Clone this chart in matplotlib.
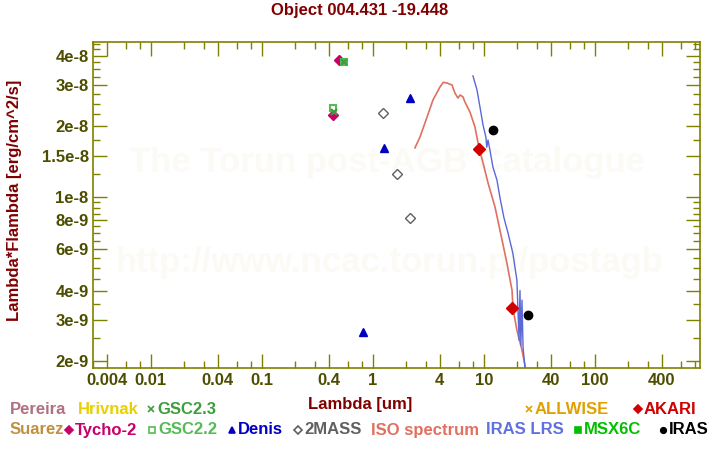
import numpy as np
from matplotlib import pyplot as plt
from matplotlib.lines import Line2D
from matplotlib.ticker import FixedLocator, NullFormatter

plt.rcParams['font.family'] = ['Liberation Sans', 'DejaVu Sans']
plt.rcParams['font.weight'] = 'bold'

# photometry (wavelength in um, lambda*F_lambda in erg/cm^2/s)
tycho_wl = [0.49, 0.436]
tycho_f = [3.84e-8, 2.24e-8]
gsc22_wl = [0.548, 0.436]
gsc22_f = [3.76e-8, 2.40e-8]
gsc23_wl = [0.548, 0.445]
gsc23_f = [3.76e-8, 2.30e-8]
denis_wl = [0.81, 1.26, 2.15]
denis_f = [2.66e-9, 1.62e-8, 2.64e-8]
mass2_wl = [1.23, 1.65, 2.15]
mass2_f = [2.28e-8, 1.25e-8, 8.14e-9]
akari_wl = [9.0, 17.9]
akari_f = [1.60e-8, 3.36e-9]
iras_wl = [12.05, 24.9]
iras_f = [1.93e-8, 3.14e-9]

iso_wl = [2.39, 2.65, 3.07, 3.47, 4.01, 4.3, 4.64, 5.15, 5.48, 5.83, 6.1, 6.47, 6.74, 7.48,
          8.29, 9.02, 9.80, 10.87, 12.57, 13.93, 16.1, 17.9, 18.25, 19.8, 22.0, 23.9]
iso_f = [1.62e-8, 1.80e-8, 2.19e-8, 2.59e-8, 2.94e-8, 3.08e-8, 3.06e-8, 3.00e-8, 2.77e-8,
         2.64e-8, 2.72e-8, 2.67e-8, 2.54e-8, 2.30e-8, 1.99e-8, 1.62e-8, 1.40e-8, 1.15e-8,
         9.07e-9, 7.23e-9, 5.23e-9, 4.01e-9, 3.36e-9, 2.71e-9, 2.23e-9, 1.83e-9]

lrs_wl = [7.96, 8.65, 9.2, 9.8, 10.4, 10.6, 10.87, 11.3, 12.05, 13.1, 13.9, 15.1,
          16.5, 18.2, 19.8, 20.7, 21.1, 21.5, 22.0, 22.5, 23.4]
lrs_f = [3.28e-8, 2.86e-8, 2.42e-8, 2.03e-8, 1.80e-8, 1.63e-8, 1.75e-8, 1.59e-8,
         1.34e-8, 1.18e-8, 1.0e-8, 8.2e-9, 7.0e-9, 5.77e-9, 4.43e-9, 2.46e-9,
         4.0e-9, 2.34e-9, 3.64e-9, 2.29e-9, 1.88e-9]

x_labels = [0.004, 0.01, 0.04, 0.1, 0.4, 1, 4, 10, 40, 100, 400]
y_labels = [2e-9, 3e-9, 4e-9, 6e-9, 8e-9, 1e-8, 1.5e-8, 2e-8, 3e-8, 4e-8]
y_label_text = ['2e-9', '3e-9', '4e-9', '6e-9', '8e-9', '1e-8', '1.5e-8', '2e-8', '3e-8', '4e-8']

olive = '#808000'
ticktxt = '#4d4d00'
darkred = '#800000'

fig = plt.figure(figsize=(7.2, 4.5), dpi=100)
ax = fig.add_axes([0.129, 0.182, 0.843, 0.725])

# watermark
ax.text(0.485, 0.63, 'The Torun post-AGB Catalogue', transform=ax.transAxes,
        ha='center', va='center', fontsize=25, color='#fcfaf5', zorder=0)
ax.text(0.488, 0.325, 'http://www.ncac.torun.pl/postagb', transform=ax.transAxes,
        ha='center', va='center', fontsize=25, color='#fcfaf5', zorder=0)

ax.plot(iso_wl, iso_f, color='#e07060', lw=1.2)
ax.plot(lrs_wl, lrs_f, color='#5a68d8', lw=1.0)

ax.plot(tycho_wl, tycho_f, 'D', color='#c8006a', ms=5, ls='none')
ax.plot(gsc22_wl, gsc22_f, 's', mfc='none', mec='#55bb55', mew=1.5, ms=5, ls='none')
ax.plot(gsc23_wl, gsc23_f, 'x', color='#3c9e3c', mew=1.5, ms=5, ls='none')
ax.plot(denis_wl, denis_f, '^', color='#0000c0', ms=6, ls='none')
ax.plot(mass2_wl, mass2_f, 'D', mfc='none', mec='#606060', mew=1.0, ms=5, ls='none')
ax.plot(akari_wl, akari_f, 'D', color='#d00000', ms=6, ls='none')
ax.plot(iras_wl, iras_f, 'o', color='black', ms=6, ls='none')

ax.set_xscale('log')
ax.set_yscale('log')
ax.set_xlim(0.003, 880)
ax.set_ylim(1.87e-9, 4.58e-8)

majors = []
minors = []
for d in range(-3, 3):
    for m in [1, 4]:
        majors.append(m * 10.0 ** d)
    for m in [2, 3, 6, 8]:
        minors.append(m * 10.0 ** d)
ax.xaxis.set_major_locator(FixedLocator(majors))
ax.xaxis.set_minor_locator(FixedLocator(minors))
ax.xaxis.set_major_formatter(plt.FuncFormatter(
    lambda v, p: ('%g' % v) if any(abs(v - l) / l < 1e-6 for l in x_labels) else ''))
ax.xaxis.set_minor_formatter(NullFormatter())

ax.yaxis.set_major_locator(FixedLocator(y_labels))
ax.yaxis.set_minor_locator(FixedLocator(
    list(np.arange(2.0, 10.0, 0.5) * 1e-9) + list(np.arange(1.0, 4.6, 0.25) * 1e-8)))
ax.set_yticklabels(y_label_text)
ax.yaxis.set_minor_formatter(NullFormatter())

ax.tick_params(which='both', direction='in', top=True, right=True, color=olive,
               labelcolor=ticktxt, labelsize=12)
ax.tick_params(which='major', length=10, width=1)
ax.tick_params(which='minor', length=5, width=1)
ax.tick_params(axis='y', pad=3)
for lab in ax.get_xticklabels() + ax.get_yticklabels():
    lab.set_fontweight('bold')
for s in ax.spines.values():
    s.set_color(olive)
    s.set_linewidth(1.2)

W, H = 720.0, 450.0
fig.text(0.5, 1 - 11 / H, 'Object 004.431 -19.448', color=darkred, fontsize=12,
         fontweight='bold', ha='center', va='center')
fig.text(15 / W, 1 - 200 / H, 'Lambda*Flambda [erg/cm^2/s]', color=darkred, fontsize=12,
         fontweight='bold', ha='center', va='center', rotation=90)
fig.text(0.5, 1 - 405 / H, 'Lambda [um]', color=darkred, fontsize=12,
         fontweight='bold', ha='center', va='center')

# legend rows below the plot (pixel x positions)
legend = [
    (10, 409, None, 'Pereira', '#b07080'),
    (78, 409, None, 'Hrivnak', '#e8d000'),
    (147, 409, 'x', 'GSC2.3', '#3c9e3c'),
    (525, 409, 'x', 'ALLWISE', '#e0a000'),
    (634, 409, 'D', 'AKARI', '#d00000'),
    (10, 430, None, 'Suarez', '#c09040'),
    (65, 430, 'D', 'Tycho-2', '#c8006a'),
    (148, 430, 's', 'GSC2.2', '#55bb55'),
    (228, 430, '^', 'Denis', '#0000c0'),
    (294, 430, 'D', '2MASS', '#606060'),
    (371, 430, None, 'ISO spectrum', '#e07060'),
    (486, 430, None, 'IRAS LRS', '#6070e0'),
    (574, 430, 's', 'MSX6C', '#00c000'),
    (659, 430, 'o', 'IRAS', 'black'),
]
open_marks = {'GSC2.2', '2MASS'}
for x, y, mk, label, col in legend:
    tx = x
    if mk is not None:
        face = 'none' if label in open_marks else col
        fig.add_artist(Line2D([(x + 4) / W], [1 - y / H], marker=mk, ms=4 if mk != 'x' else 5,
                              mfc=face, mec=col, mew=1.2, color=col, ls='none',
                              transform=fig.transFigure))
        tx = x + 10
    fig.text(tx / W, 1 - y / H, label, color=col, fontsize=12, fontweight='bold',
             ha='left', va='center')

fig.savefig('out.png', dpi=100)
